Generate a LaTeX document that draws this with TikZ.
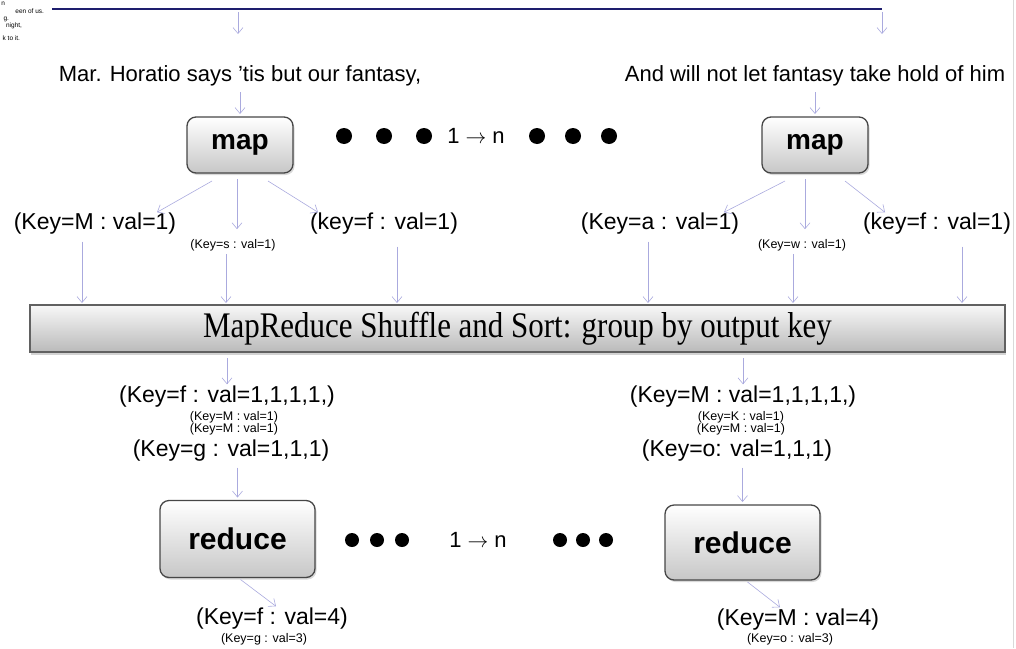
\documentclass[tikz,border=0pt]{standalone}
\usepackage{fontspec}
\setmainfont{Liberation Sans}
\newfontfamily\barfont{Liberation Serif}
\usepackage{tikz}
\usetikzlibrary{positioning}
\usetikzlibrary{shadows}
\usetikzlibrary{arrows.meta}
\definecolor{flowline}{RGB}{170,170,222}
\definecolor{rulenavy}{RGB}{30,30,110}
\definecolor{boxedge}{RGB}{70,70,70}
\tikzset{every node/.style={inner sep=0pt, outer sep=0pt}}
\tikzset{flow/.style={draw=flowline, line width=0.6pt, -{Straight Barb[length=6pt, width=10pt]}}}
\tikzset{task/.style={draw=boxedge, line width=1.3pt, rounded corners=9pt, top color=white, bottom color=black!22,
    drop shadow={opacity=0.3, shadow xshift=1.5pt, shadow yshift=-2pt}}}
\tikzset{quote/.style={font=\fontsize{22}{24}\selectfont}}
\tikzset{pair/.style={font=\fontsize{23}{26}\selectfont}}
\tikzset{subpair/.style={font=\fontsize{12.5}{12}\selectfont, align=center}}
\tikzset{margin/.style={font=\fontsize{6.5}{7}\selectfont, anchor=base east}}
\newcommand{\fanout}{1 $\rightarrow$ n}

\begin{document}
\begin{tikzpicture}[x=1pt, y=-1pt]
    \useasboundingbox (0,0) rectangle (1016,648);
    \draw[black!15, line width=0.8pt] (1013,0) -- (1013,648);

    \node[margin] (v1) at (5,5) {n};
    \node[margin] (v2) at (44,13) {een of us.};
    \node[margin] (v3) at (9,20) {g.};
    \node[margin] (v4) at (22,27) {night,};
    \node[margin] (v5) at (20,40) {k to it.};

    \coordinate (rl) at (52,9);
    \coordinate (rr) at (882,9);
    \coordinate (rm) at (238,9);
    \coordinate (dl) at (238,34);
    \coordinate (dr) at (882,34);
    \draw[rulenavy, line width=1.2pt] (rl) -- (rr);
    \draw[flow, shorten <=3pt] (rm) -- (dl);
    \draw[flow, shorten <=3pt] (rr) -- (dr);

    \node[quote] (line1) at (240,76) {Mar. Horatio says 'tis but our fantasy,};
    \node[quote] (line2) at (815,76) {And will not let fantasy take hold of him};

    \node[task, minimum width=106pt, minimum height=56pt, font=\bfseries\fontsize{28}{30}\selectfont] (map1) at (240,145) {map};
    \node[task, minimum width=106pt, minimum height=56pt, font=\bfseries\fontsize{28}{30}\selectfont] (map2) at (815,145) {map};
    \draw[flow, shorten <=6pt, shorten >=3pt] (map1.north |- line1.south) -- (map1.north);
    \draw[flow, shorten <=6pt, shorten >=3pt] (map2.north |- line2.south) -- (map2.north);

    \foreach \x in {344,384,424,537,573,609}
        \fill (\x,136) circle[radius=8pt];
    \node[quote] (fan1) at (476,136) {\fanout};

    \node[pair] (kM) at (95,224) {(Key=M : val=1)};
    \node[subpair] (kS) at (233,245) {(Key=s : val=1)};
    \node[pair] (kF1) at (384,224) {(key=f : val=1)};
    \node[pair] (kA) at (660,224) {(Key=a : val=1)};
    \node[subpair] (kW) at (802,245) {(Key=w : val=1)};
    \node[pair] (kF2) at (937,224) {(key=f : val=1)};

    \draw[flow] ([xshift=-28pt,yshift=-8pt]map1.south) -- ([xshift=62pt,yshift=1pt]kM.north);
    \draw[flow, shorten <=6pt, shorten >=10pt] ([xshift=-3pt]map1.south) -- ([xshift=-3pt]map1.south |- kS.north);
    \draw[flow] ([xshift=28pt,yshift=-8pt]map1.south) -- ([xshift=-66pt,yshift=1pt]kF1.north);
    \draw[flow] ([xshift=-30pt,yshift=-8pt]map2.south) -- ([xshift=64pt,yshift=1pt]kA.north);
    \draw[flow, shorten <=6pt, shorten >=10pt] ([xshift=-10pt]map2.south) -- ([xshift=-10pt]map2.south |- kW.north);
    \draw[flow] ([xshift=30pt,yshift=-8pt]map2.south) -- ([xshift=-52pt,yshift=1pt]kF2.north);

    \node[draw=black!62, line width=1.3pt, top color=black!3, bottom color=black!27,
        minimum width=975pt, minimum height=47pt,
        drop shadow={opacity=0.35, shadow xshift=1pt, shadow yshift=-2.5pt},
        font=\barfont\fontsize{36}{38}\selectfont] (shuffle) at (517.5,328.5) {\scalebox{0.86}[1]{MapReduce Shuffle and Sort: group by output key}};

    \draw[flow, shorten <=7pt, shorten >=2pt] ([xshift=-13pt]kM.south) -- ([xshift=-13pt]kM.south |- shuffle.north);
    \draw[flow, shorten <=3pt, shorten >=2pt] ([xshift=-7pt]kS.south) -- ([xshift=-7pt]kS.south |- shuffle.north);
    \draw[flow, shorten <=12pt, shorten >=2pt] ([xshift=13pt]kF1.south) -- ([xshift=13pt]kF1.south |- shuffle.north);
    \draw[flow, shorten <=7pt, shorten >=2pt] ([xshift=-12pt]kA.south) -- ([xshift=-12pt]kA.south |- shuffle.north);
    \draw[flow, shorten <=3pt, shorten >=2pt] ([xshift=-9pt]kW.south) -- ([xshift=-9pt]kW.south |- shuffle.north);
    \draw[flow, shorten <=12pt, shorten >=2pt] ([xshift=25pt]kF2.south) -- ([xshift=25pt]kF2.south |- shuffle.north);

    \node[pair] (gF) at (227,397) {(Key=f : val=1,1,1,1,)};
    \node[subpair] (gSub) at (234,423) {(Key=M : val=1)\\(Key=M : val=1)};
    \node[pair] (gG) at (231,451) {(Key=g : val=1,1,1)};
    \node[pair] (hM) at (743,397) {(Key=M : val=1,1,1,1,)};
    \node[subpair] (hSub) at (741,423) {(Key=K : val=1)\\(Key=M : val=1)};
    \node[pair] (hO) at (737,451) {(Key=o: val=1,1,1)};
    \draw[flow, shorten <=6pt, shorten >=2pt] (shuffle.south -| gF.north) -- (gF.north);
    \draw[flow, shorten <=6pt, shorten >=2pt] (shuffle.south -| hM.north) -- (hM.north);

    \node[task, minimum width=155pt, minimum height=77pt, font=\bfseries\fontsize{30}{32}\selectfont] (red1) at (237.5,539) {reduce};
    \node[task, minimum width=155pt, minimum height=75pt, font=\bfseries\fontsize{30}{32}\selectfont] (red2) at (742.5,542.5) {reduce};
    \draw[flow, shorten <=6pt, shorten >=3pt] (red1.north |- gG.south) -- (red1.north);
    \draw[flow, shorten <=6pt, shorten >=3pt] (red2.north |- hO.south) -- (red2.north);

    \foreach \x in {352,377,402,560,583,606}
        \fill (\x,540) circle[radius=7pt];
    \node[quote] (fan2) at (478,540) {\fanout};

    \node[pair] (oF) at (272,619) {(Key=f : val=4)};
    \node[subpair] (oG) at (264,639) {(Key=g : val=3)};
    \node[pair] (oM) at (798,620) {(Key=M : val=4)};
    \node[subpair] (oO) at (790,639) {(Key=o : val=3)};
    \draw[flow] ([xshift=3pt,yshift=-2pt]red1.south) -- ([xshift=4pt,yshift=2pt]oF.north);
    \draw[flow] ([xshift=5pt,yshift=-2pt]red2.south) -- ([xshift=-18pt,yshift=2pt]oM.north);
\end{tikzpicture}
\end{document}
